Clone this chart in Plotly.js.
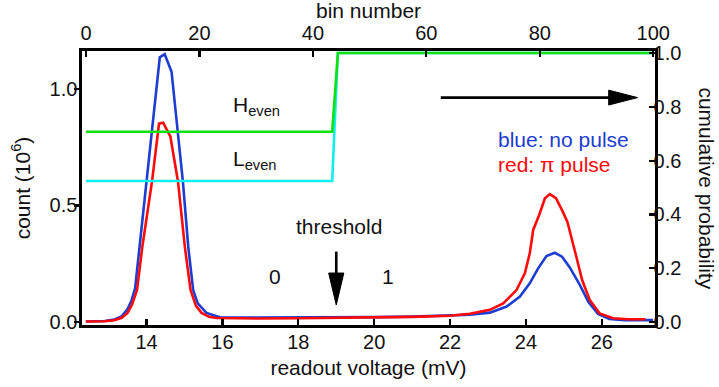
<!DOCTYPE html>
<html>
<head>
<meta charset="utf-8">
<script src="https://cdn.plot.ly/plotly-3.0.1.min.js"></script>
<style>html,body{margin:0;padding:0;background:#fff;}#chart{width:719px;height:387px;}</style>
</head>
<body>
<div id="chart"></div>
<script>
// Histogram, no pulse (blue): readout voltage (mV) vs count (10^6)
const voltageBlue = [12.4, 12.9, 13.15, 13.35, 13.5, 13.6, 13.7, 13.82, 14.0, 14.35, 14.48, 14.66, 14.96, 15.1, 15.23, 15.35, 15.58, 15.93, 16.3, 17, 18, 19, 20, 21, 22, 22.52, 23.05, 23.49, 23.84, 24.1, 24.32, 24.54, 24.76, 24.95, 25.15, 25.4, 25.65, 25.9, 26.2, 26.6, 27.35];
const countBlue   = [0.002, 0.004, 0.010, 0.025, 0.055, 0.09, 0.145, 0.323, 0.60, 1.136, 1.149, 1.074, 0.60, 0.323, 0.137, 0.08, 0.039, 0.02, 0.019, 0.019, 0.019, 0.021, 0.021, 0.023, 0.028, 0.031, 0.040, 0.066, 0.109, 0.166, 0.230, 0.283, 0.297, 0.280, 0.235, 0.165, 0.085, 0.035, 0.013, 0.008, 0.008];

// Histogram, pi pulse (red)
const voltageRed = [12.4, 12.9, 13.15, 13.35, 13.5, 13.62, 13.75, 13.89, 14.15, 14.33, 14.44, 14.63, 14.83, 15.01, 15.16, 15.3, 15.45, 15.65, 15.84, 16.3, 17, 18, 19, 20, 21, 22, 22.52, 23.05, 23.4, 23.75, 23.97, 24.1, 24.19, 24.35, 24.5, 24.63, 24.79, 24.95, 25.09, 25.33, 25.48, 25.68, 25.94, 26.3, 26.7, 27.15];
const countRed   = [0.002, 0.003, 0.007, 0.018, 0.039, 0.075, 0.137, 0.323, 0.609, 0.851, 0.855, 0.795, 0.602, 0.323, 0.137, 0.07, 0.039, 0.022, 0.017, 0.015, 0.015, 0.016, 0.017, 0.019, 0.022, 0.027, 0.035, 0.052, 0.080, 0.137, 0.209, 0.295, 0.395, 0.46, 0.531, 0.549, 0.531, 0.48, 0.43, 0.278, 0.18, 0.094, 0.037, 0.016, 0.012, 0.012];

// Cumulative probability vs bin number
const binsCum  = [0, 43.4, 44.4, 100];
const cumHeven = [0.707, 0.707, 1.0, 1.0];
const cumLeven = [0.524, 0.524, 1.0, 1.0];

// Tick labels
const voltageTicks = [14, 16, 18, 20, 22, 24, 26];
const countTicks = [0.0, 0.5, 1.0];
const binTicks = [0, 20, 40, 60, 80, 100];
const probTicks = [0.0, 0.2, 0.4, 0.6, 0.8, 1.0];

const FONT = 'Liberation Sans, Arial, Helvetica, sans-serif';
const FS = 20;   // tick labels
const FT = 21;   // titles and notes
const INK = '#111';
const BLUE = '#1c3dd0';
const RED = '#ff0a0a';
const GREEN = '#10e010';
const CYAN = '#10eeee';

const traces = [
  {x: voltageBlue, y: countBlue, xaxis: 'x', yaxis: 'y', mode: 'lines', line: {color: BLUE, width: 2.6}, hoverinfo: 'skip'},
  {x: voltageRed, y: countRed, xaxis: 'x', yaxis: 'y', mode: 'lines', line: {color: RED, width: 2.6}, hoverinfo: 'skip'},
  {x: binsCum, y: cumLeven, xaxis: 'x2', yaxis: 'y2', mode: 'lines', line: {color: CYAN, width: 2.6}, hoverinfo: 'skip'},
  {x: binsCum, y: cumHeven, xaxis: 'x2', yaxis: 'y2', mode: 'lines', line: {color: GREEN, width: 2.6}, hoverinfo: 'skip'}
];

const axisCommon = {
  showgrid: false, zeroline: false, showline: true, linecolor: '#000', linewidth: 2.6,
  tickcolor: '#000', tickwidth: 2.2, ticklen: 6,
  tickfont: {family: FONT, size: FS, color: INK}
};

const layout = {
  width: 719, height: 387,
  margin: {l: 82, r: 64, t: 51, b: 62},
  paper_bgcolor: '#fff', plot_bgcolor: '#fff',
  showlegend: false,
  font: {family: FONT, size: FT, color: INK},
  xaxis: Object.assign({}, axisCommon, {
    range: [12.3, 27.4], tickvals: voltageTicks, ticks: 'inside', ticklabelstandoff: -3,
    title: {text: 'readout voltage (mV)', font: {family: FONT, size: FT, color: INK}, standoff: 9}
  }),
  xaxis2: Object.assign({}, axisCommon, {
    range: [-0.7, 100.3], tickvals: binTicks, ticks: 'inside', side: 'top', overlaying: 'x', ticklabelstandoff: 0
  }),
  yaxis: Object.assign({}, axisCommon, {
    range: [-0.013, 1.163], tickvals: countTicks, tickformat: '.1f', ticks: 'outside', ticklen: 5, ticklabelstandoff: -7,
    title: {text: 'count (10<sup>6</sup>)', font: {family: FONT, size: FT, color: INK}, standoff: 14}
  }),
  yaxis2: Object.assign({}, axisCommon, {
    range: [-0.011, 1.0074], tickvals: probTicks, tickformat: '.1f', ticks: 'inside', side: 'right', overlaying: 'y', ticklabelstandoff: -8
  }),
  annotations: [
    {xref: 'paper', yref: 'paper', x: 0.5, y: (325 - 11) / 274, text: 'bin number', showarrow: false,
     xanchor: 'center', yanchor: 'middle', font: {family: FONT, size: FT, color: INK}},
    {xref: 'paper', yref: 'paper', x: 1.09, y: 0.5, text: 'cumulative probability', textangle: 90, showarrow: false,
     font: {family: FONT, size: FT, color: INK}, xanchor: 'center', yanchor: 'middle'},
    {xref: 'x', yref: 'y', x: 16.22, y: 0.928, text: 'H<sub>even</sub>', showarrow: false, xanchor: 'left', yanchor: 'middle'},
    {xref: 'x', yref: 'y', x: 16.22, y: 0.697, text: 'L<sub>even</sub>', showarrow: false, xanchor: 'left', yanchor: 'middle'},
    {xref: 'x', yref: 'y', x: 19.07, y: 0.409, text: 'threshold', showarrow: false, xanchor: 'center', yanchor: 'middle'},
    {xref: 'x', yref: 'y', x: 17.38, y: 0.194, text: '0', showarrow: false, xanchor: 'center', yanchor: 'middle'},
    {xref: 'x', yref: 'y', x: 20.36, y: 0.194, text: '1', showarrow: false, xanchor: 'center', yanchor: 'middle'},
    {xref: 'x', yref: 'y', x: 23.2, y: 0.784, text: 'blue: no pulse', showarrow: false, xanchor: 'left', yanchor: 'middle', font: {family: FONT, size: FT, color: BLUE}},
    {xref: 'x', yref: 'y', x: 23.2, y: 0.674, text: 'red: π pulse', showarrow: false, xanchor: 'left', yanchor: 'middle', font: {family: FONT, size: FT, color: RED}}
  ],
  shapes: [
    {type: 'line', xref: 'x', yref: 'y', x0: 19.0, x1: 19.0, y0: 0.302, y1: 0.20, line: {color: '#000', width: 2.6}},
    {type: 'path', xref: 'x', yref: 'y', path: 'M 18.80 0.21 L 19.20 0.21 L 19.0 0.073 Z', fillcolor: '#000', line: {color: '#000', width: 1}},
    {type: 'line', xref: 'x', yref: 'y', x0: 21.755, x1: 26.3, y0: 0.963, y1: 0.963, line: {color: '#000', width: 2.6}},
    {type: 'path', xref: 'x', yref: 'y', path: 'M 26.18 0.995 L 26.18 0.931 L 26.94 0.963 Z', fillcolor: '#000', line: {color: '#000', width: 1}}
  ]
};

Plotly.newPlot('chart', traces, layout, {staticPlot: true, displayModeBar: false});
</script>
</body>
</html>
